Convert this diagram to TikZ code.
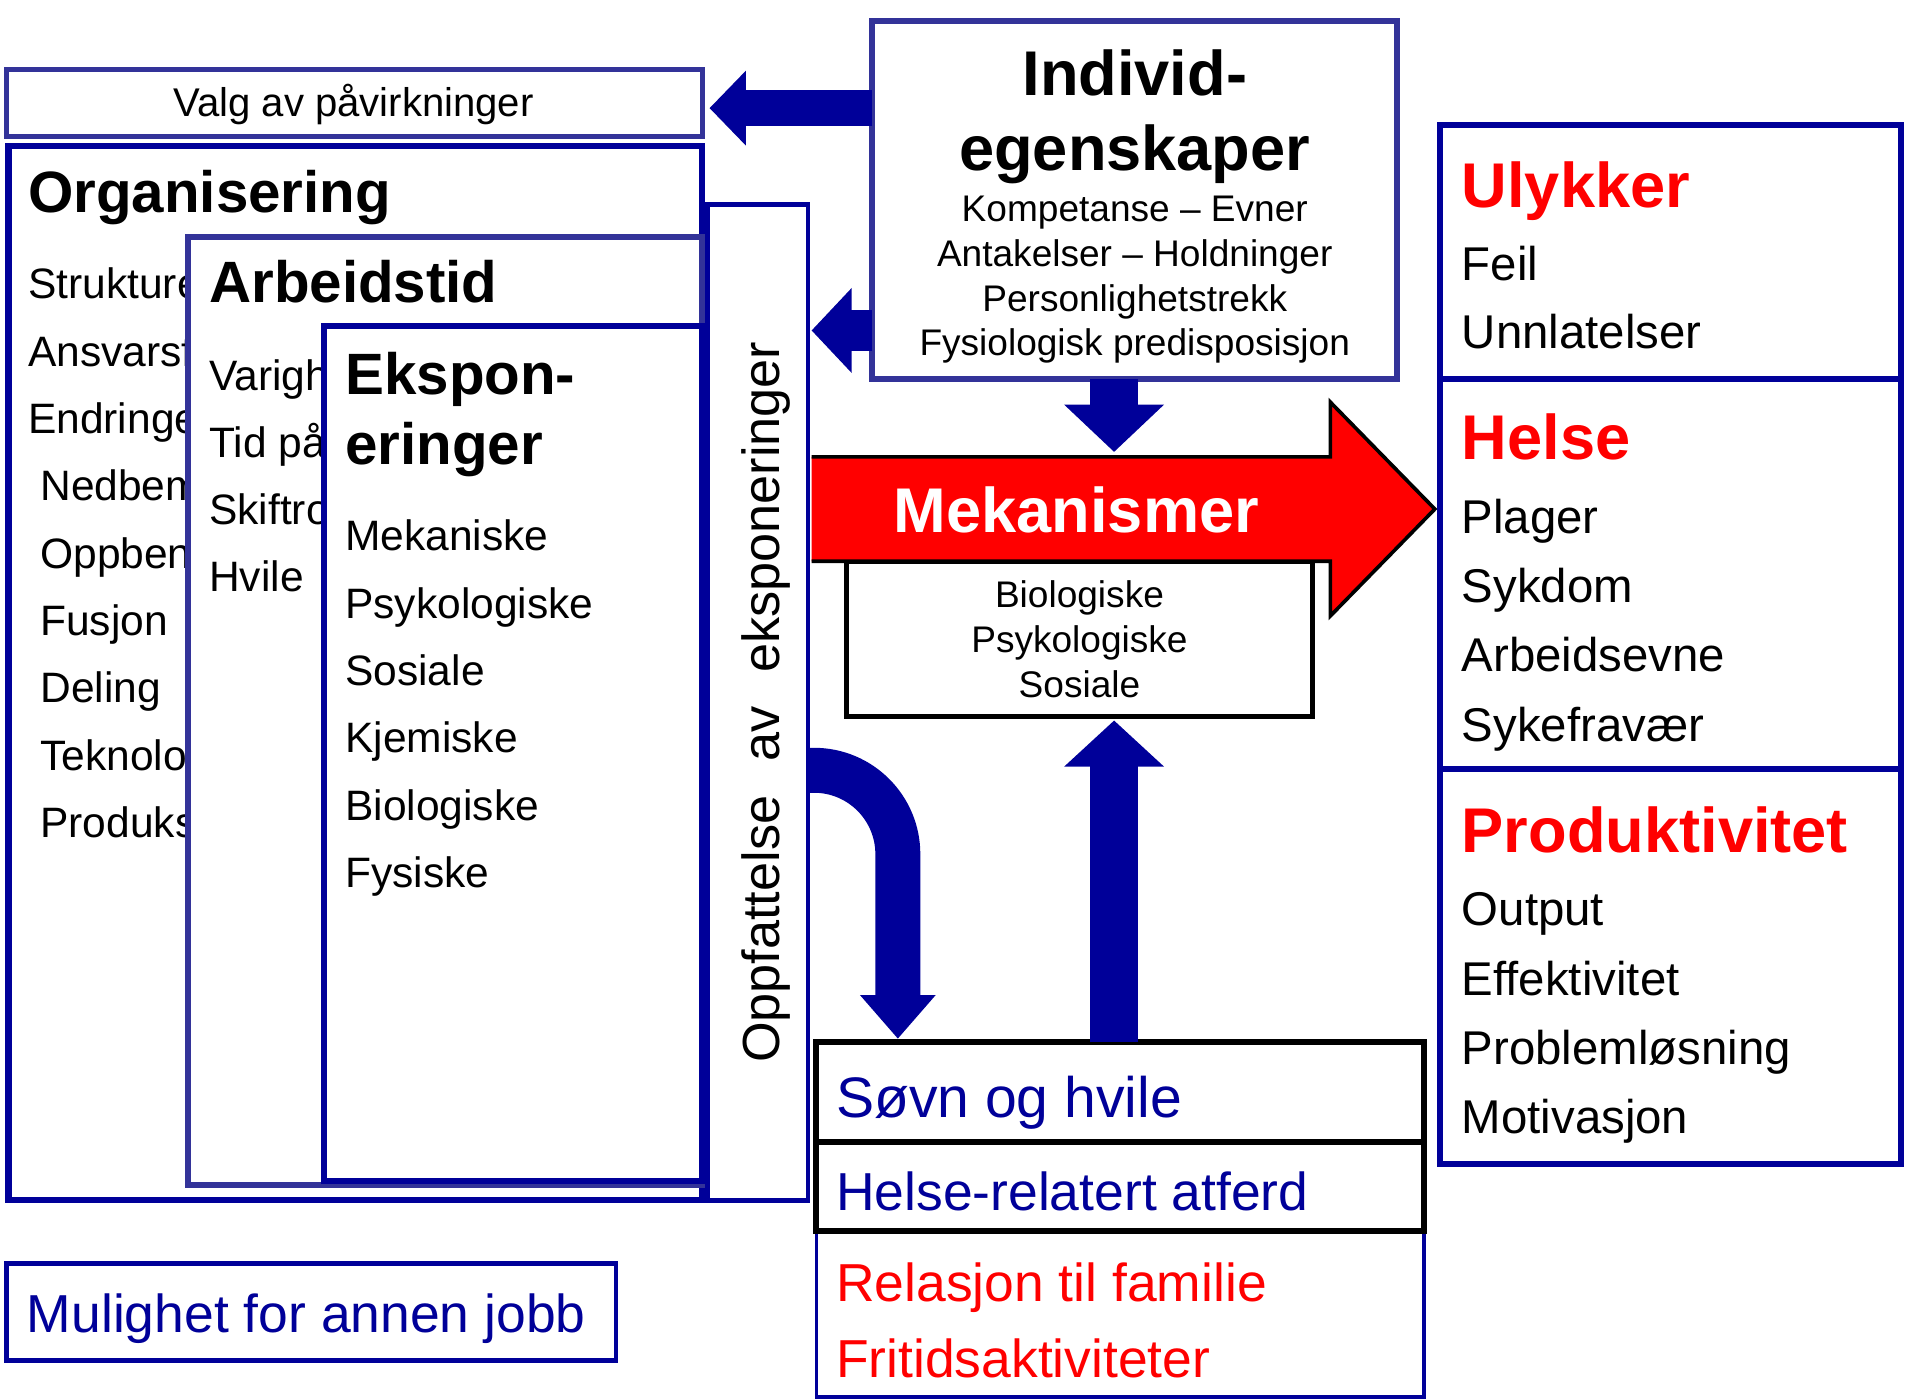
\documentclass[tikz,border=0pt]{standalone}
\usepackage{fontspec}
\setmainfont{Liberation Sans}
\usetikzlibrary{arrows.meta}
\definecolor{kblue}{HTML}{000099}
\definecolor{kmid}{HTML}{333399}
\definecolor{kred}{HTML}{FF0000}

\begin{document}
\begin{tikzpicture}[x=1pt,y=-1pt,
	panel/.style={draw=kblue,line width=5pt,fill=white,inner sep=0pt,outer sep=0pt,anchor=north west},
	item/.style={anchor=base west,inner sep=0pt,font=\fontsize{35}{35}\selectfont},
	head/.style={anchor=base west,inner sep=0pt,font=\fontsize{48}{48}\selectfont\bfseries},
	big/.style={anchor=base west,inner sep=0pt,font=\fontsize{52}{52}\selectfont\bfseries,text=kred},
	res/.style={anchor=base west,inner sep=0pt,font=\fontsize{39}{39}\selectfont},
	low/.style={anchor=base west,inner sep=0pt,font=\fontsize{44}{44}\selectfont}]
	\path[use as bounding box] (0,0) rectangle (1568,1152);

	\node[panel,draw=kmid,line width=4pt,minimum width=573pt,minimum height=55pt] (valg) at (5,57) {};
	\node[anchor=base,inner sep=0pt,font=\fontsize{33}{33}\selectfont] (valgtxt) at (291,96) {Valg av påvirkninger};

	\node[panel,minimum width=571pt,minimum height=868pt] (org) at (7,120) {};
	\node[head] (orgtitle) at (23,175) {Organisering};
	\foreach \t [count=\i] in {Strukture,Ansvarsf,Endringe}
		\node[item] (org\i) at (23,{246+55.4*(\i-1)}) {\t};
	\foreach \t [count=\i from 4] in {Nedbem,Oppben,Fusjon,Deling,Teknolo,Produks}
		\node[item] (org\i) at (33,{246+55.4*(\i-1)}) {\t};

	\node[panel,draw=kmid,minimum width=423pt,minimum height=780pt] (arb) at (155,195) {};
	\node[head] (arbtitle) at (172,249) {Arbeidstid};
	\foreach \t [count=\i] in {Varigh,Tid på,Skiftro,Hvile}
		\node[item] (arb\i) at (172,{321.5+55*(\i-1)}) {\t};

	\node[panel,minimum width=311pt,minimum height=704pt] (eks) at (267,268) {};
	\node[head] (ekstitle) at (284,325) {Ekspon-};
	\node[head] (ekstitle2) at (284,382) {eringer};
	\foreach \t [count=\i] in {Mekaniske,Psykologiske,Sosiale,Kjemiske,Biologiske,Fysiske}
		\node[item] (eks\i) at (284,{453.5+55.4*(\i-1)}) {\t};

	\node[panel,line width=4pt,minimum width=83pt,minimum height=820pt] (oppf) at (582,168) {};
	\node[rotate=90,anchor=base,inner sep=0pt,font=\fontsize{43}{43}\selectfont] (oppftxt) at (642,578) {Oppfattelse\hspace{28pt}av\hspace{28pt}eksponeringer};

	\node[panel,draw=kmid,minimum width=432pt,minimum height=295pt] (indiv) at (718,17) {};
	\node[anchor=base,inner sep=0pt,font=\fontsize{52}{52}\selectfont\bfseries] (indivtitle) at (934,78.6) {Individ-};
	\node[anchor=base,inner sep=0pt,font=\fontsize{52}{52}\selectfont\bfseries] (indivtitle2) at (934,140.6) {egenskaper};
	\foreach \t [count=\i] in {Kompetanse – Evner,Antakelser – Holdninger,Personlighetstrekk,Fysiologisk predisposisjon}
		\node[anchor=base,inner sep=0pt,font=\fontsize{30.5}{30.5}\selectfont] (indiv\i) at (934,{182+37*(\i-1)}) {\t};

	\node[panel,draw=black,line width=4pt,minimum width=383pt,minimum height=128pt,align=center,font=\fontsize{30.5}{37}\selectfont] (meksub) at (697,462) {Biologiske\\Psykologiske\\Sosiale};
	\draw[fill=kred,line width=3pt,line join=miter] (668,376) -- (1095,376) -- (1095,331) -- (1181,419) -- (1095,507) -- (1095,462) -- (668,462);
	\node[anchor=base,inner sep=0pt,text=white,font=\fontsize{52}{52}\selectfont\bfseries] (mek) at (886,438.6) {Mekanismer};
	\coordinate (mektop) at (917,376);

	\node[panel,line width=3pt,minimum width=500pt,minimum height=137pt] (rel) at (672,1013) {};
	\node[panel,draw=black,minimum width=500pt,minimum height=73pt] (atf) at (672,940) {};
	\node[panel,draw=black,minimum width=500pt,minimum height=82pt] (sovn) at (672,858) {};
	\node[anchor=base west,inner sep=0pt,text=kblue,font=\fontsize{47}{47}\selectfont] (sovntxt) at (688,920) {Søvn og hvile};
	\node[low,text=kblue] (atftxt) at (688,996) {Helse-relatert atferd};
	\node[low,text=kred] (rel1) at (688,1071) {Relasjon til familie};
	\node[low,text=kred] (rel2) at (688,1134) {Fritidsaktiviteter};

	\node[panel,line width=4pt,minimum width=502pt,minimum height=80pt] (mulig) at (5,1040) {};
	\node[low,text=kblue] (muligtxt) at (22,1097) {Mulighet for annen jobb};

	\node[panel,minimum width=380pt,minimum height=855pt] (res) at (1185,103) {};
	\draw[kblue,line width=5pt] (res.west |- 0,312) -- (res.east |- 0,312);
	\draw[kblue,line width=5pt] (res.west |- 0,633) -- (res.east |- 0,633);
	\node[big] (ulykker) at (1203,170.6) {Ulykker};
	\foreach \t [count=\i] in {Feil,Unnlatelser}
		\node[res] (uly\i) at (1203,{231+56*(\i-1)}) {\t};
	\node[big] (helse) at (1203,378.6) {Helse};
	\foreach \t [count=\i] in {Plager,Sykdom,Arbeidsevne,Sykefravær}
		\node[res] (hel\i) at (1203,{439+57*(\i-1)}) {\t};
	\node[big] (prod) at (1203,701.6) {Produktivitet};
	\foreach \t [count=\i] in {Output,Effektivitet,Problemløsning,Motivasjon}
		\node[res] (prod\i) at (1203,{762+57*(\i-1)}) {\t};

	\coordinate (valgtip) at (584,89);
	\coordinate (oppftip) at (668,272);
	\draw[kblue,line width=30pt,-{Triangle[length=30pt,width=60pt]}] (indiv.west |- valgtip) -- (valgtip);
	\draw[kblue,line width=34pt,-{Triangle[length=33pt,width=68pt]}] (indiv.west |- oppftip) -- (oppftip);
	\draw[kblue,line width=40pt,shorten >=4pt,-{Triangle[length=39pt,width=80pt]}] (indiv.south -| mektop) -- (mektop);
	\draw[kblue,line width=40pt,shorten >=3pt,-{Triangle[length=38pt,width=80pt]}] (sovn.north -| mektop) -- (meksub.south -| mektop);
	\draw[kblue,line width=37pt,shorten >=3pt,-{Triangle[length=36pt,width=60pt]}] (oppf.east |- 0,634) -- (670,634) arc[start angle=270,end angle=360,radius=69] -- (sovn.north -| 739,0);
\end{tikzpicture}
\end{document}
